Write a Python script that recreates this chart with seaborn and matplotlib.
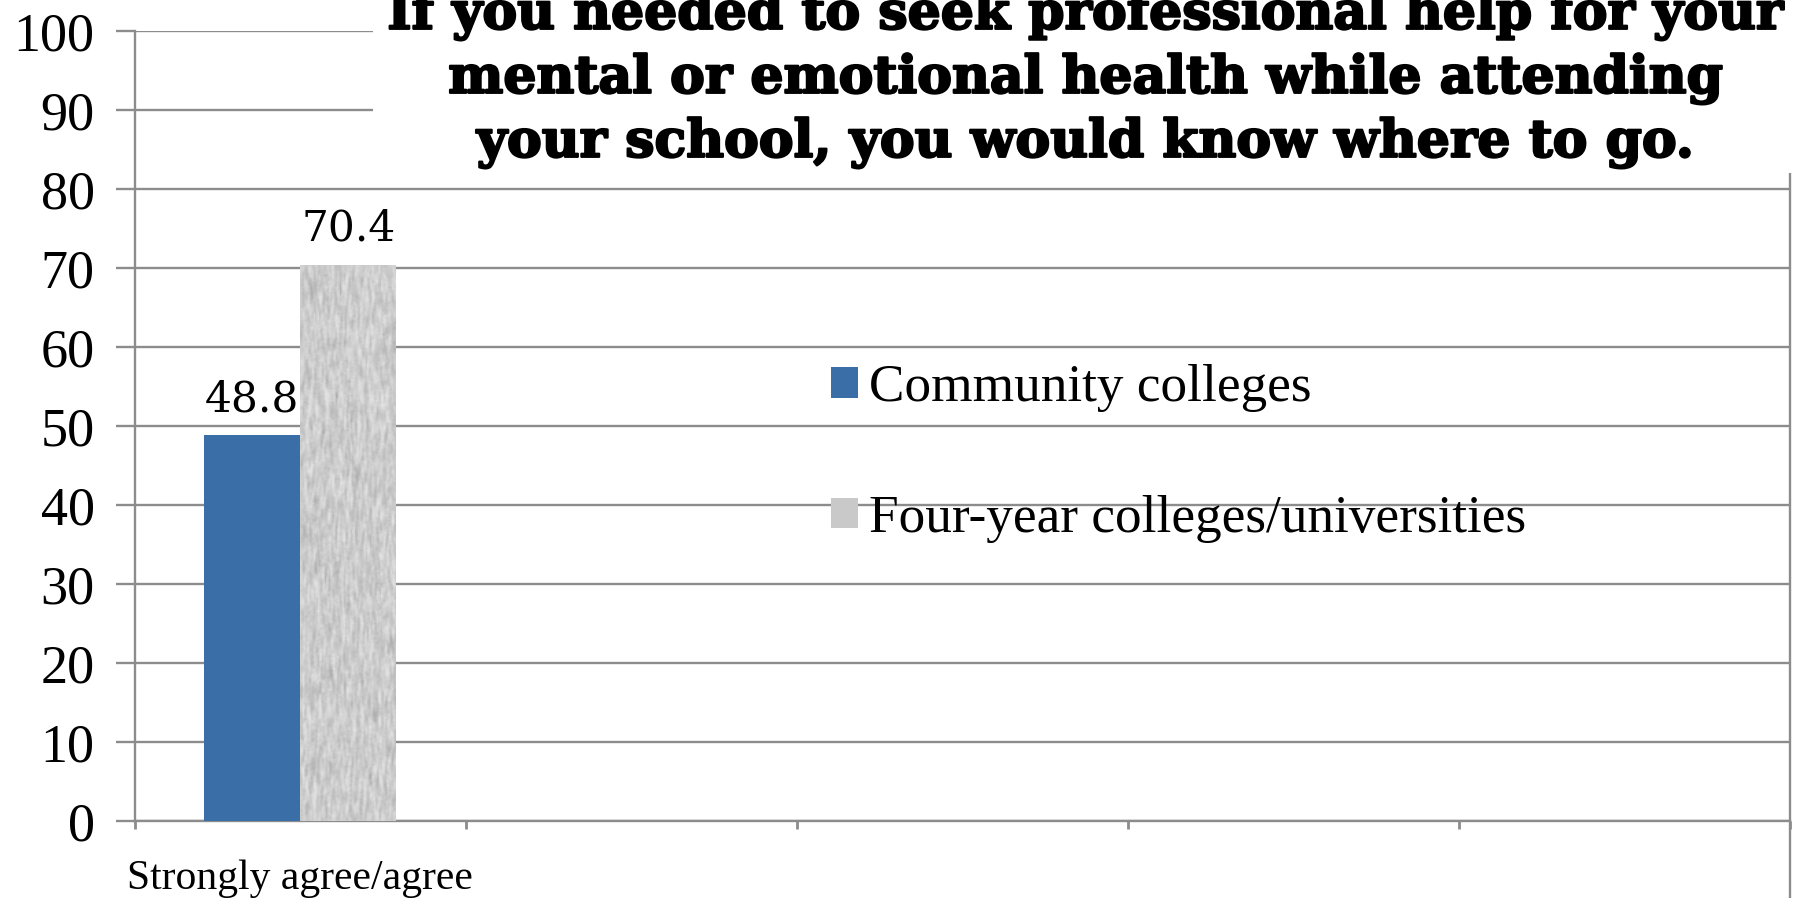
import matplotlib
matplotlib.use("Agg")
import matplotlib.pyplot as plt
from matplotlib.patches import Rectangle
import matplotlib.patheffects as pe
import numpy as np
import seaborn as sns
import pandas as pd

# Survey responses
responses = ["Strongly agree/agree"]
groups = ["Community colleges", "Four-year colleges/universities"]
community_pct = [48.8]
four_year_pct = [70.4]
y_ticks = [0, 10, 20, 30, 40, 50, 60, 70, 80, 90, 100]
title = ("If you needed to seek professional help for your\n"
         "mental or emotional health while attending\n"
         "your school, you would know where to go.")

df = pd.DataFrame({
    "response": responses * 2,
    "group": [groups[0]] * len(responses) + [groups[1]] * len(responses),
    "pct": community_pct + four_year_pct,
})

sns.set_theme(style="white")
plt.rcParams["font.family"] = ["Liberation Serif", "DejaVu Serif"]
plt.rcParams["text.color"] = "black"
plt.rcParams["xtick.labelcolor"] = "black"
plt.rcParams["ytick.labelcolor"] = "black"

BLUE = "#3a6ea6"
GRAY = "#c9c9c9"
GRID = "#8c8c8c"

fig = plt.figure(figsize=(18.11, 8.98), dpi=100)
ax = fig.add_axes([0.0745, 0.0857, 0.9139, 0.8798])

sns.barplot(data=df, x="response", y="pct", hue="group", hue_order=groups,
            palette=[BLUE, GRAY], width=0.58, saturation=1, ax=ax,
            edgecolor="none", linewidth=0, zorder=3)


def smooth(a, k, axis):
    kern = np.ones(k) / k
    return np.apply_along_axis(lambda v: np.convolve(v, kern, mode="same"), axis, a)


# paper-like grain on the four-year bars
grain_rng = np.random.default_rng(11)
for patch in ax.containers[1].patches:
    x0, w, h = patch.get_x(), patch.get_width(), patch.get_height()
    g = grain_rng.normal(size=(320, 70))
    g = smooth(smooth(g, 7, 0), 2, 1)
    g = (g - g.mean()) / g.std()
    shade = np.clip(0.80 + 0.035 * g, 0.68, 0.88)
    im = ax.imshow(shade, cmap="gray", vmin=0, vmax=1, aspect="auto",
                   extent=(x0, x0 + w, 0, h), interpolation="bilinear", zorder=3.5)
    im.set_clip_path(patch)

for cont in ax.containers:
    ax.bar_label(cont, fmt="%.1f", padding=11, fontsize=30.5,
                 family="DejaVu Serif", color="black")

ax.set_xlim(-0.5, 4.5)
ax.set_ylim(0, 100)
ax.set_yticks(y_ticks)
ax.set_yticklabels([str(t) for t in y_ticks], fontsize=39)
ax.yaxis.grid(True, color=GRID, linewidth=1.7)
ax.set_axisbelow(True)

# boundary ticks between category slots, label centred under the first slot
ax.set_xticks([-0.5, 0.5, 1.5, 2.5, 3.5, 4.5])
ax.set_xticklabels([""] * 6)
ax.set_xticks([0], minor=True)
ax.set_xticklabels(responses, minor=True, fontsize=30)
ax.tick_params(axis="x", which="major", length=6, width=2, color=GRID,
               direction="out", bottom=True)
ax.tick_params(axis="x", which="minor", length=0, pad=28)
ax.tick_params(axis="y", length=14, width=1.7, color=GRID, pad=15, left=True)
ax.set_xlabel("")
ax.set_ylabel("")

ax.spines["top"].set_visible(False)
for side in ["left", "bottom", "right"]:
    ax.spines[side].set_color(GRID)
    ax.spines[side].set_linewidth(1.7)
ax.spines["right"].set_bounds(-12, 100)

leg = ax.legend(frameon=False, loc="upper left",
                bbox_to_anchor=(0.4472, 0.618), bbox_transform=fig.transFigure,
                fontsize=38.3, handlelength=0.5, handleheight=0.5,
                handletextpad=0.22, labelspacing=1.55, borderaxespad=0)
for h in leg.legend_handles:
    h.set_edgecolor("none")

# title panel sits over the upper gridlines
fig.patches.append(Rectangle((0.206, 0.807), 0.8, 0.2, transform=fig.transFigure,
                             facecolor="white", edgecolor="none", zorder=2))
fig.text(0.5997, 0.812, title, ha="center", va="bottom", fontsize=37.5,
         fontweight="bold", family="DejaVu Serif", linespacing=1.30,
         color="black", zorder=3,
         path_effects=[pe.withStroke(linewidth=1.6, foreground="black")])

fig.savefig("out.png", dpi=100)
